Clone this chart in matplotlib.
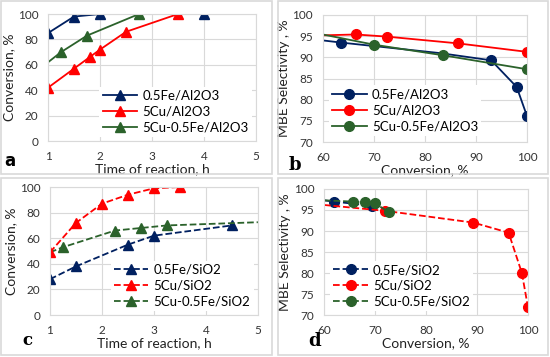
import numpy as np
import matplotlib
matplotlib.use('Agg')
import matplotlib.pyplot as plt
from matplotlib.patches import Rectangle

plt.rcParams['font.family'] = ['Lato', 'DejaVu Sans']

# panel a - Al2O3 conversion vs time
a_fe_t = [1, 1.5, 2, 4]
a_fe_c = [85, 98, 100, 100]
a_cu_t = [1, 1.5, 1.8, 2, 2.5, 3.5]
a_cu_c = [42, 57, 66, 72, 86, 100]
a_cufe_t = [1, 1.25, 1.75, 2.75]
a_cufe_c = [62, 70, 83, 100]

# panel b - Al2O3 selectivity vs conversion
b_fe_x = [60, 63.5, 83, 93, 98, 100]
b_fe_s = [94, 93.5, 91, 89.3, 83, 76.2]
b_cu_x = [60, 66.5, 72.5, 86.5, 100]
b_cu_s = [95.2, 95.4, 94.9, 93.3, 91.3]
b_cufe_x = [60, 70, 83.5, 100]
b_cufe_s = [95.4, 93, 90.5, 87.2]

# panel c - SiO2 conversion vs time
c_fe_t = [1, 1.5, 2.5, 3, 4.5]
c_fe_c = [28, 38, 55, 62, 70]
c_cu_t = [1, 1.5, 2, 2.5, 3, 3.5]
c_cu_c = [49, 72, 87, 94, 99, 100]
c_cufe_t = [1, 1.25, 2.25, 2.75, 3.25, 5]
c_cufe_c = [49, 53, 66, 68, 70, 72.5]

# panel d - SiO2 selectivity vs conversion
d_fe_x = [60, 62, 69.5]
d_fe_s = [97.3, 97, 96]
d_cu_x = [60, 72, 89.3, 96.2, 98.8, 100]
d_cu_s = [96.2, 94.8, 92, 89.6, 80, 71.8]
d_cufe_x = [60, 65.7, 68, 70, 72.7]
d_cufe_s = [97.3, 97, 96.8, 96.6, 94.5]

navy = '#002060'
red = '#ff0000'
green = '#2b622b'
gridc = '#d9d9d9'
fs = 8.5

fig = plt.figure(figsize=(5.5, 3.57), dpi=100)

# light gray frames around each panel
for (x0, y0, w, h) in [(1, 183, 271, 173), (278, 183, 270, 173),
                       (1, 2, 271, 177), (278, 2, 270, 177)]:
    fig.patches.append(Rectangle((x0 / 550, y0 / 357), w / 550, h / 357,
                                 transform=fig.transFigure, fill=False,
                                 edgecolor='#d9d9d9', lw=1.2))


def style(ax, xlim, ylim, xt, yt, xlabel, ylabel):
    ax.set_xlim(xlim)
    ax.set_ylim(ylim)
    ax.set_xticks(xt)
    ax.set_yticks(yt)
    ax.grid(True, color=gridc, lw=0.8)
    ax.set_axisbelow(True)
    for s in ax.spines.values():
        s.set_color(gridc)
        s.set_linewidth(0.8)
    ax.tick_params(length=0, labelsize=fs, pad=7, colors='#333333')
    ax.set_xlabel(xlabel, fontsize=fs + 1.5, labelpad=1, color='#222222')
    ax.set_ylabel(ylabel, fontsize=fs + 1.5, labelpad=2, color='#222222')


def legend(ax, loc, anchor, handles=None, labels=None):
    if handles is None:
        handles, labels = ax.get_legend_handles_labels()
    lg = ax.legend(handles, labels, loc=loc, bbox_to_anchor=anchor,
                   fontsize=fs + 1, frameon=True, fancybox=False,
                   handlelength=2.6, borderpad=0.25, labelspacing=0.3,
                   handletextpad=0.4, borderaxespad=0)
    lg.get_frame().set_edgecolor('none')
    lg.get_frame().set_facecolor('white')
    lg.get_frame().set_alpha(1)


ms = 7

# a
ax = fig.add_axes([0.0873, 0.605, 0.378, 0.3557])
ax.plot(a_fe_t, a_fe_c, '-^', color=navy, ms=ms, lw=1.3, label='0.5Fe/Al2O3')
ax.plot(a_cu_t, a_cu_c, '-^', color=red, ms=ms, lw=1.3, label='5Cu/Al2O3')
ax.plot(a_cufe_t, a_cufe_c, '-^', color=green, ms=ms, lw=1.3,
        markevery=[1, 2, 3], label='5Cu-0.5Fe/Al2O3')
style(ax, (1, 5), (0, 100), [1, 2, 3, 4, 5], range(0, 101, 20),
      'Time of reaction, h', 'Conversion, %')
legend(ax, 'lower right', (0.98, 0.03))
fig.text(0.008, 0.535, 'a', fontsize=12, fontweight='bold', family='DejaVu Sans')

# b
ax = fig.add_axes([0.587, 0.602, 0.371, 0.356])
ax.plot(b_fe_x, b_fe_s, '-o', color=navy, ms=ms, lw=1.3,
        markevery=[1, 3, 4, 5], label='0.5Fe/Al2O3')
ax.plot(b_cu_x, b_cu_s, '-o', color=red, ms=ms, lw=1.3,
        markevery=[1, 2, 3, 4], label='5Cu/Al2O3')
ax.plot(b_cufe_x, b_cufe_s, '-o', color=green, ms=ms, lw=1.3,
        markevery=[1, 2, 3], label='5Cu-0.5Fe/Al2O3')
style(ax, (60, 100), (70, 100), range(60, 101, 10), range(70, 101, 5),
      'Conversion, %', 'MBE Selectivity , %')
legend(ax, 'lower left', (0.03, 0.05))
fig.text(0.525, 0.525, 'b', fontsize=13, fontweight='bold', family='DejaVu Serif')

# c
ax = fig.add_axes([0.0909, 0.1176, 0.378, 0.3585])
ax.plot(c_fe_t, c_fe_c, '--^', color=navy, ms=ms, lw=1.3, label='0.5Fe/SiO2')
ax.plot(c_cufe_t, c_cufe_c, '--^', color=green, ms=ms, lw=1.3,
        markevery=[1, 2, 3, 4], label='5Cu-0.5Fe/SiO2')
ax.plot(c_cu_t, c_cu_c, '--^', color=red, ms=ms, lw=1.3, label='5Cu/SiO2')
style(ax, (1, 5), (0, 100), [1, 2, 3, 4, 5], range(0, 101, 20),
      'Time of reaction, h', 'Conversion, %')
h, l = ax.get_legend_handles_labels()
legend(ax, 'lower right', (0.98, 0.03), [h[0], h[2], h[1]], [l[0], l[2], l[1]])
fig.text(0.04, 0.035, 'c', fontsize=12, fontweight='bold', family='DejaVu Serif')

# d
ax = fig.add_axes([0.589, 0.1176, 0.371, 0.353])
ax.plot(d_fe_x, d_fe_s, '--o', color=navy, ms=ms, lw=1.3,
        markevery=[1, 2], label='0.5Fe/SiO2')
ax.plot(d_cu_x, d_cu_s, '--o', color=red, ms=ms, lw=1.3,
        markevery=[1, 2, 3, 4, 5], label='5Cu/SiO2')
ax.plot(d_cufe_x, d_cufe_s, '--o', color=green, ms=ms, lw=1.3,
        markevery=[1, 2, 3, 4], label='5Cu-0.5Fe/SiO2')
style(ax, (60, 100), (70, 100), range(60, 101, 10), range(70, 101, 5),
      'Conversion, %', 'MBE Selectivity , %')
legend(ax, 'lower left', (0.03, 0.03))
fig.text(0.56, 0.03, 'd', fontsize=13, fontweight='bold', family='DejaVu Serif')

fig.savefig('out.png', dpi=100)
